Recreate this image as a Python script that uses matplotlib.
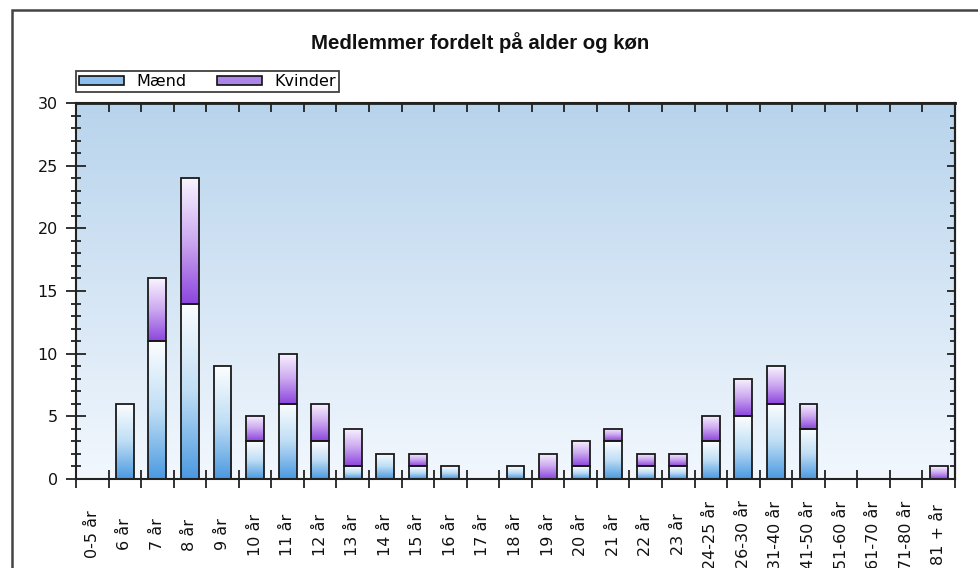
import numpy as np
import matplotlib
matplotlib.use("Agg")
import matplotlib.pyplot as plt
from matplotlib.colors import LinearSegmentedColormap
from matplotlib.patches import Patch, Rectangle

categories = ['0-5 år', '6 år', '7 år', '8 år', '9 år', '10 år', '11 år', '12 år',
              '13 år', '14 år', '15 år', '16 år', '17 år', '18 år', '19 år', '20 år',
              '21 år', '22 år', '23 år', '24-25 år', '26-30 år', '31-40 år',
              '41-50 år', '51-60 år', '61-70 år', '71-80 år', '81 + år']
maend   = [0, 6, 11, 14, 9, 3, 6, 3, 1, 2, 1, 1, 0, 1, 0, 1, 3, 1, 1, 3, 5, 6, 4, 0, 0, 0, 0]
kvinder = [0, 0, 5, 10, 0, 2, 4, 3, 3, 0, 1, 0, 0, 0, 2, 2, 1, 1, 1, 2, 3, 3, 2, 0, 0, 0, 1]
title = 'Medlemmer fordelt på alder og køn'
series_names = ['Mænd', 'Kvinder']

W, H = 979, 568
fig = plt.figure(figsize=(W / 100, H / 100), dpi=100)
fig.patch.set_facecolor('white')

L, R, T, B = 76, 955, 103, 479
ax = fig.add_axes([L / W, 1 - B / H, (R - L) / W, (B - T) / H])

n = len(categories)
x = np.arange(n)
bw = 0.55

# background gradient
bg_cmap = LinearSegmentedColormap.from_list('bg', [(0.95, 0.97, 0.995), (0.72, 0.83, 0.925)])
grad = np.linspace(0, 1, 256).reshape(-1, 1)
ax.imshow(grad, extent=[0, 1, 0, 1], transform=ax.transAxes, cmap=bg_cmap,
          aspect='auto', origin='lower', zorder=0)

m_cmap = LinearSegmentedColormap.from_list('m', [(0.29, 0.60, 0.88), (0.75, 0.87, 0.96), (0.99, 0.995, 1.0)])
k_cmap = LinearSegmentedColormap.from_list('k', [(0.55, 0.27, 0.87), (0.80, 0.66, 0.94), (0.98, 0.96, 1.0)])

edge = '#1a1a1a'
b1 = ax.bar(x, maend, width=bw, facecolor='none', edgecolor=edge, linewidth=1.3, zorder=3)
b2 = ax.bar(x, kvinder, width=bw, bottom=maend, facecolor='none', edgecolor=edge, linewidth=1.3, zorder=3)

for cont, cm in ((b1, m_cmap), (b2, k_cmap)):
    for rect in cont:
        h = rect.get_height()
        if h <= 0:
            rect.set_linewidth(0)
            continue
        x0, y0 = rect.get_xy()
        w = rect.get_width()
        ax.imshow(grad, extent=[x0, x0 + w, y0, y0 + h], cmap=cm, aspect='auto',
                  origin='lower', zorder=2, interpolation='bilinear')

ax.set_xlim(-0.5, n - 0.5)
ax.set_ylim(0, 30)

for s in ax.spines.values():
    s.set_color('#222222')
    s.set_linewidth(1.5)
    s.set_zorder(4)

# x ticks
ax.set_xticks(x)
ax.set_xticklabels(categories, fontsize=11.5, family='DejaVu Sans')
ax.set_xticks(np.arange(-0.5, n, 1.0), minor=True)
ax.tick_params(axis='x', which='major', length=0, pad=40, labelrotation=90, colors='#111111')
ax.tick_params(axis='x', which='minor', direction='inout', length=13, width=1.3, color='#222222')
for lbl in ax.get_xticklabels():
    lbl.set_va('center')
    lbl.set_ha('center')

# y ticks
ax.set_yticks(np.arange(0, 31, 5))
ax.set_yticks(np.arange(0, 31, 1), minor=True)
ax.tick_params(axis='y', which='major', direction='inout', length=14, width=1.3, pad=6,
               labelsize=11.5, color='#222222', labelcolor='#111111')
ax.tick_params(axis='y', which='minor', direction='inout', length=7, width=1.3, color='#222222')

# top ticks
sx = ax.secondary_xaxis('top')
sx.set_xticks(np.arange(-0.5, n, 1.0))
sx.set_xticklabels([])
sx.tick_params(direction='in', length=6.5, width=1.3, color='#222222')
sx.spines['top'].set_linewidth(2)
sx.spines['top'].set_color('#222222')

# right ticks
sy = ax.secondary_yaxis('right')
sy.set_yticks(np.arange(0, 31, 5))
sy.set_yticks(np.arange(0, 31, 1), minor=True)
sy.set_yticklabels([])
sy.tick_params(which='major', direction='in', length=6, width=1.3, color='#222222')
sy.tick_params(which='minor', direction='in', length=3.5, width=1.3, color='#222222')
sy.spines['right'].set_linewidth(1.5)
sy.spines['right'].set_color('#222222')

# title
fig.text(480 / W, 1 - 43 / H, title, ha='center', va='center', fontsize=14.7,
         fontweight='bold', family='Liberation Sans', color='#111111')

# legend
handles = [Patch(facecolor=(0.55, 0.75, 0.93), edgecolor='#111111', linewidth=1.2),
           Patch(facecolor=(0.68, 0.52, 0.91), edgecolor='#111111', linewidth=1.2)]
leg = fig.legend(handles, series_names, loc='upper left',
                 bbox_to_anchor=(76 / W, 1 - 71 / H), ncol=2, frameon=True,
                 fancybox=False, shadow=False, prop={'family': 'DejaVu Sans', 'size': 11.5},
                 handlelength=2.8, handleheight=0.42, handletextpad=0.8, columnspacing=1.9,
                 borderpad=0.2, borderaxespad=0)
leg.get_frame().set_edgecolor('#111111')
leg.get_frame().set_linewidth(1.3)

# outer border
fig.patches.append(Rectangle((12 / W, -0.1), 1.2, (1 - 10 / H) + 0.1, transform=fig.transFigure,
                             fill=False, edgecolor='#444444', linewidth=1.8))

fig.savefig('out.png', dpi=100)
